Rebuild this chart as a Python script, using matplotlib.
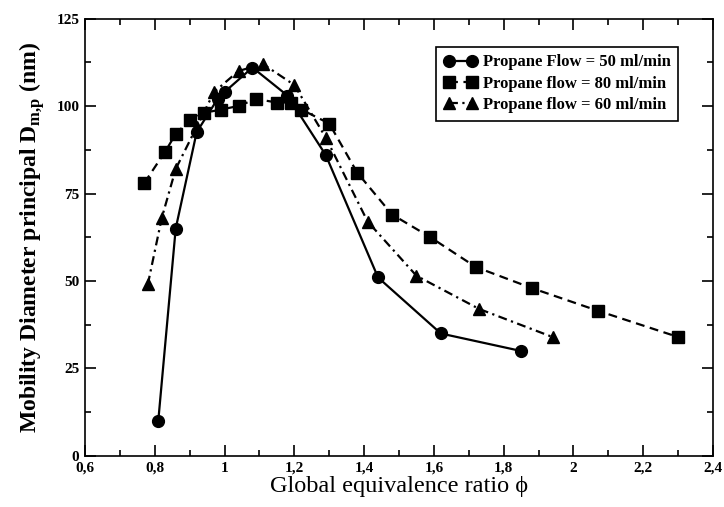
import matplotlib
matplotlib.use('Agg')
import matplotlib.pyplot as plt
from matplotlib.ticker import MultipleLocator, FuncFormatter

plt.rcParams['font.family'] = ['Liberation Serif', 'DejaVu Serif']
plt.rcParams['mathtext.fontset'] = 'custom'
plt.rcParams['mathtext.rm'] = 'Liberation Serif:bold'
plt.rcParams['mathtext.bf'] = 'Liberation Serif:bold'

# data
phi_50 = [0.81, 0.86, 0.92, 0.98, 1.00, 1.08, 1.18, 1.29, 1.44, 1.62, 1.85]
d_50 = [10, 65, 92.5, 102, 104, 111, 103, 86, 51, 35, 30]

phi_80 = [0.77, 0.83, 0.86, 0.90, 0.94, 0.99, 1.04, 1.09, 1.15, 1.19, 1.22,
          1.30, 1.38, 1.48, 1.59, 1.72, 1.88, 2.07, 2.30]
d_80 = [78, 87, 92, 96, 98, 99, 100, 102, 101, 101, 99,
        95, 81, 69, 62.5, 54, 48, 41.5, 34]

phi_60 = [0.78, 0.82, 0.86, 0.92, 0.97, 1.04, 1.11, 1.20, 1.29, 1.41, 1.55, 1.73, 1.94]
d_60 = [49, 68, 82, 94, 104, 110, 112, 106, 91, 67, 51.5, 42, 34]

labels = ['Propane Flow = 50 ml/min', 'Propane flow = 80 ml/min', 'Propane flow = 60 ml/min']

fig = plt.figure(figsize=(7.24, 5.07), dpi=100)
ax = fig.add_axes([0.1174, 0.1006, 0.8674, 0.8629])

ax.plot(phi_50, d_50, '-', color='black', lw=1.6, marker='o', ms=8.5, label=labels[0])
ax.plot(phi_80, d_80, '--', color='black', lw=1.6, marker='s', ms=8, label=labels[1],
        dashes=(4, 2.5))
ax.plot(phi_60, d_60, '-.', color='black', lw=1.6, marker='^', ms=8.5, label=labels[2],
        dashes=(4, 2, 1, 2))

ax.set_xlim(0.6, 2.4)
ax.set_ylim(0, 125)
ax.xaxis.set_major_locator(MultipleLocator(0.2))
ax.xaxis.set_minor_locator(MultipleLocator(0.1))
ax.yaxis.set_major_locator(MultipleLocator(25))
ax.yaxis.set_minor_locator(MultipleLocator(12.5))


def comma_fmt(v, pos):
    s = '%g' % round(v, 2)
    return s.replace('.', ',')


ax.xaxis.set_major_formatter(FuncFormatter(comma_fmt))
ax.tick_params(which='both', direction='in', top=True, right=True, width=1.2)
ax.tick_params(which='major', length=8, labelsize=11, pad=4)
ax.tick_params(which='minor', length=4)
for lab in ax.get_xticklabels() + ax.get_yticklabels():
    lab.set_fontweight('bold')
for s in ax.spines.values():
    s.set_linewidth(1.2)

ax.set_xlabel('Global equivalence ratio ϕ', fontsize=17.5, labelpad=1)
ax.set_ylabel(r'Mobility Diameter principal D$_{\mathbf{m{,}p}}$ (nm)', fontsize=17,
              fontweight='bold', labelpad=7)

leg = ax.legend(loc='upper right', bbox_to_anchor=(0.945, 0.935), numpoints=2,
                fancybox=False, framealpha=1, edgecolor='black', handlelength=2.0,
                handletextpad=0.35, borderpad=0.45, labelspacing=0.32,
                borderaxespad=0, prop={'weight': 'bold', 'size': 12})
leg.get_frame().set_linewidth(1.2)

plt.savefig('out.png', dpi=100)
